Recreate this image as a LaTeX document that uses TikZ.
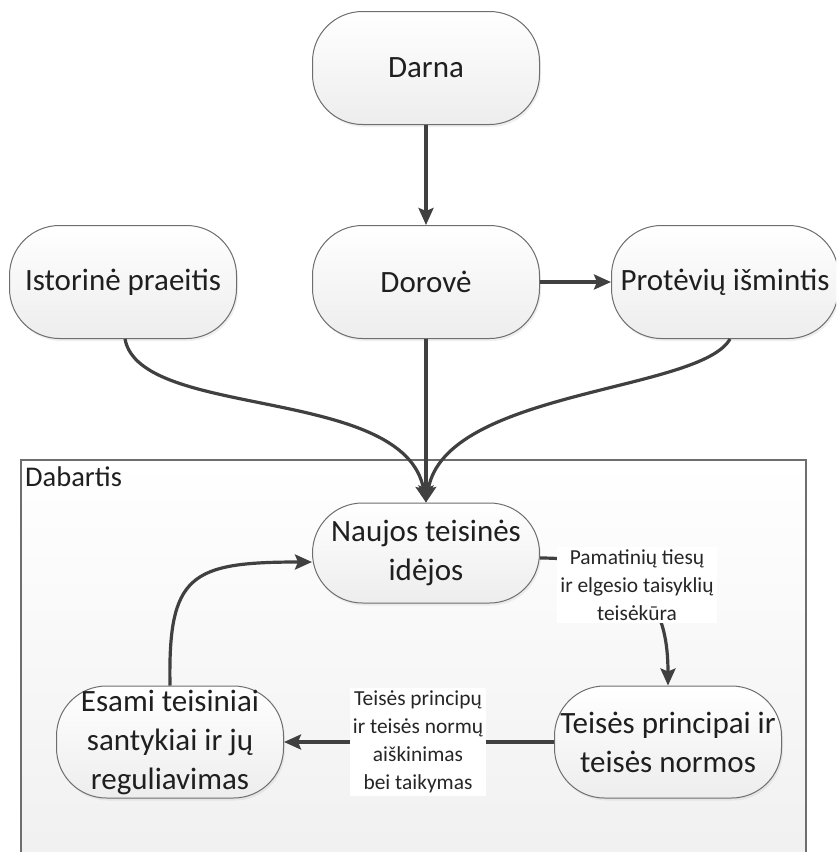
\documentclass[tikz,border=0pt]{standalone}
\usepackage{fontspec}
\setmainfont{Carlito}
\usetikzlibrary{arrows.meta,shadows}
\definecolor{lineC}{HTML}{404040}
\definecolor{edgeC}{HTML}{6E6E6E}
\tikzset{
  blk/.style={draw=edgeC, line width=1pt, rounded corners=50pt,
    top color=white, bottom color=black!7, minimum width=227pt, minimum height=113pt,
    align=center, inner sep=2pt, font=\fontsize{31}{39}\selectfont, text=black!88,
    drop shadow={opacity=0.12, shadow xshift=1.5pt, shadow yshift=-2.5pt}},
  conn/.style={draw=lineC, line width=3.2pt, -{Stealth[length=17pt,width=15pt,inset=3pt]}},
  lbl/.style={fill=white, align=center, inner sep=3pt, font=\fontsize{21.4}{28}\selectfont, text=black!85}
}
\begin{document}
\begin{tikzpicture}[x=1pt,y=-1pt]
\useasboundingbox (0,0) rectangle (836,852);
\clip (0,0) rectangle (836,852);
\fill[white] (0,0) rectangle (836,852);
% Dabartis frame
\path[draw=edgeC, line width=1.5pt, top color=white, bottom color=black!6] (21,460) rectangle (806,880);
\node[anchor=north west, inner sep=0pt, font=\fontsize{28.5}{34}\selectfont, text=black!88] (dab) at (25,467) {Dabartis};

\node[blk] (darna) at (426,68) {Darna};
\node[blk] (ist) at (123,282) {Istorinė praeitis};
\node[blk] (dor) at (426,282) {Dorovė};
\node[blk] (prot) at (725,282) {Protėvių išmintis};
\node[blk, minimum height=100pt] (nauj) at (426,553) {Naujos teisinės\\idėjos};
\node[blk, minimum height=112pt] (tp) at (668,742) {Teisės principai ir\\teisės normos};
\node[blk, minimum height=112pt] (esa) at (170,742) {Esami teisiniai\\santykiai ir jų\\reguliavimas};

\path (ist.south) ++(2,0) coordinate (is);
\path (prot.south) ++(5,0) coordinate (ps);
\draw[conn] (darna) -- (dor);
\draw[conn] (dor) -- (prot);
\draw[conn] (dor) -- (nauj);
\draw[conn] (is) .. controls (140,420) and (405,385) .. (nauj.north);
\draw[conn] (ps) .. controls (700,392) and (445,390) .. (nauj.north);
\draw[conn] (esa.north) .. controls (168,575) and (190,562) .. (nauj.west |- 0,562);
\draw[conn] (nauj.east |- 0,558) .. controls (650,558) and (668,615) .. (tp.north);
\node[lbl] (l1) at (637,585) {Pamatinių tiesų\\ir elgesio taisyklių\\teisėkūra};
\draw[conn] (tp) -- (esa);
\node[lbl] (l2) at (418,742) {Teisės principų\\ir teisės normų\\aiškinimas\\bei taikymas};
\end{tikzpicture}
\end{document}
